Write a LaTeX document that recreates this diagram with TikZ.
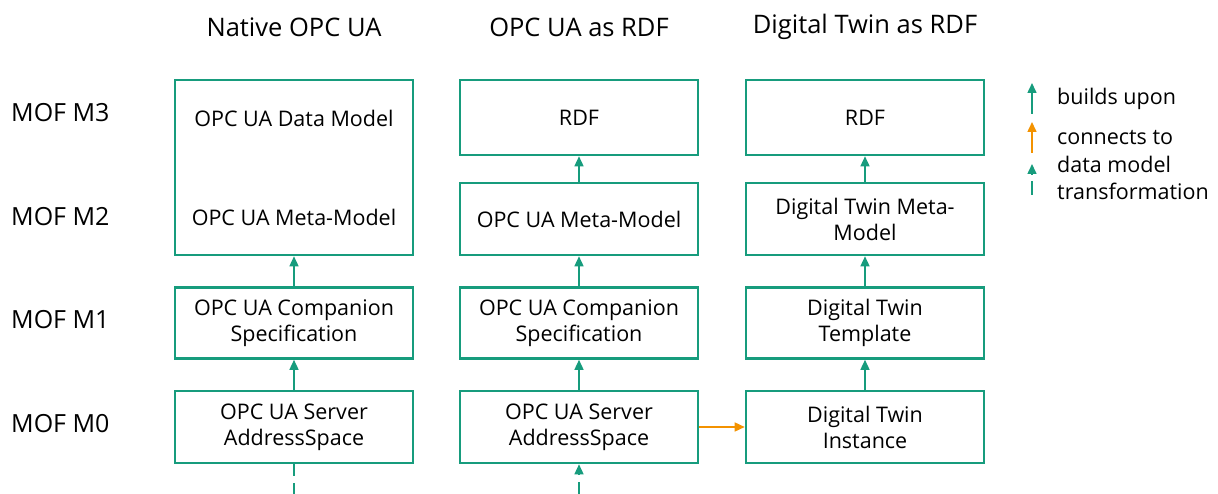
\documentclass[tikz,border=0pt]{standalone}
\usepackage{fontspec}
\setmainfont{Open Sans}
\usetikzlibrary{arrows.meta}
\definecolor{fhgreen}{HTML}{179C7D}
\definecolor{fhorange}{HTML}{F39200}
\begin{document}
\begin{tikzpicture}[x=1pt,y=-1pt,
  box/.style={draw=fhgreen,line width=2.6pt,minimum width=238pt,align=center,inner sep=0pt,font=\fontsize{21.5}{26}\selectfont},
  txt/.style={font=\fontsize{21.5}{26}\selectfont,align=center,inner sep=0pt},
  lbl/.style={font=\fontsize{25}{30}\selectfont,anchor=west,inner sep=0pt},
  head/.style={font=\fontsize{25.5}{30}\selectfont,inner sep=0pt},
  build/.style={draw=fhgreen,line width=1.5pt,-{Triangle[width=9pt,length=10pt]}},
  conn/.style={draw=fhorange,line width=1.5pt,-{Triangle[width=9pt,length=10pt]}},
  trans/.style={draw=fhgreen,line width=1.5pt,dash pattern=on 12pt off 7pt},
  leg/.style={font=\fontsize{21.5}{27}\selectfont,anchor=west,inner sep=0pt,align=left}
]
\useasboundingbox (0,0) rectangle (1218,494);
% headers
\node[head] (h1) at (294,27) {Native OPC UA};
\node[head] (h2) at (579,27) {OPC UA as RDF};
\node[head] (h3) at (865,27) {Digital Twin as RDF};
% row labels
\node[lbl] (l3) at (11,113) {MOF M3};
\node[lbl] (l2) at (11,217) {MOF M2};
\node[lbl] (l1) at (11,320) {MOF M1};
\node[lbl] (l0) at (11,424) {MOF M0};
% column 1
\node[box,minimum height=175pt] (c1m32) at (294,167.5) {};
\node[txt] (c1t3) at (294,118) {OPC UA Data Model};
\node[txt] (c1t2) at (294,217) {OPC UA Meta-Model};
\node[box,minimum height=71pt] (c1m1) at (294,323) {OPC UA Companion\\Specification};
\node[box,minimum height=72pt] (c1m0) at (294,427) {OPC UA Server\\AddressSpace};
% column 2
\node[box,minimum height=75pt] (c2m3) at (579,117.5) {RDF};
\node[box,minimum height=72pt] (c2m2) at (579,219) {OPC UA Meta-Model};
\node[box,minimum height=71pt] (c2m1) at (579,323) {OPC UA Companion\\Specification};
\node[box,minimum height=72pt] (c2m0) at (579,427) {OPC UA Server\\AddressSpace};
% column 3
\node[box,minimum height=75pt] (c3m3) at (865,117.5) {RDF};
\node[box,minimum height=72pt] (c3m2) at (865,219) {Digital Twin Meta-\\Model};
\node[box,minimum height=71pt] (c3m1) at (865,323) {Digital Twin\\Template};
\node[box,minimum height=72pt] (c3m0) at (865,427) {Digital Twin\\Instance};
% builds upon
\draw[build] (c1m1.north) -- (c1m32.south);
\draw[build] (c1m0.north) -- (c1m1.south);
\draw[build] (c2m2.north) -- (c2m3.south);
\draw[build] (c2m1.north) -- (c2m2.south);
\draw[build] (c2m0.north) -- (c2m1.south);
\draw[build] (c3m2.north) -- (c3m3.south);
\draw[build] (c3m1.north) -- (c3m2.south);
\draw[build] (c3m0.north) -- (c3m1.south);
% connects to
\draw[conn] (c2m0.east) -- (c3m0.west);
% transformation
\coordinate (d1) at (294,494);
\coordinate (d2) at (579,494);
\draw[trans] (c1m0.south) -- (d1);
\draw[trans,-{Triangle[width=9pt,length=10pt]}] (d2) -- (c2m0.south);
% legend
\coordinate (g1b) at (1032,114);
\coordinate (g1t) at (1032,83);
\coordinate (g2b) at (1032,153);
\coordinate (g2t) at (1032,122);
\coordinate (g3b) at (1032,195);
\coordinate (g3t) at (1032,164);
\draw[build] (g1b) -- (g1t);
\draw[conn] (g2b) -- (g2t);
\draw[draw=fhgreen,line width=1.5pt,dash pattern=on 14pt off 7pt,-{Triangle[width=9pt,length=10pt]}] (g3b) -- (g3t);
\node[leg] (t1) at (1057,99) {builds upon};
\node[leg] (t2) at (1057,138) {connects to};
\node[leg,anchor=north west] (t3) at (1057,156) {data model\\transformation};
\end{tikzpicture}
\end{document}
